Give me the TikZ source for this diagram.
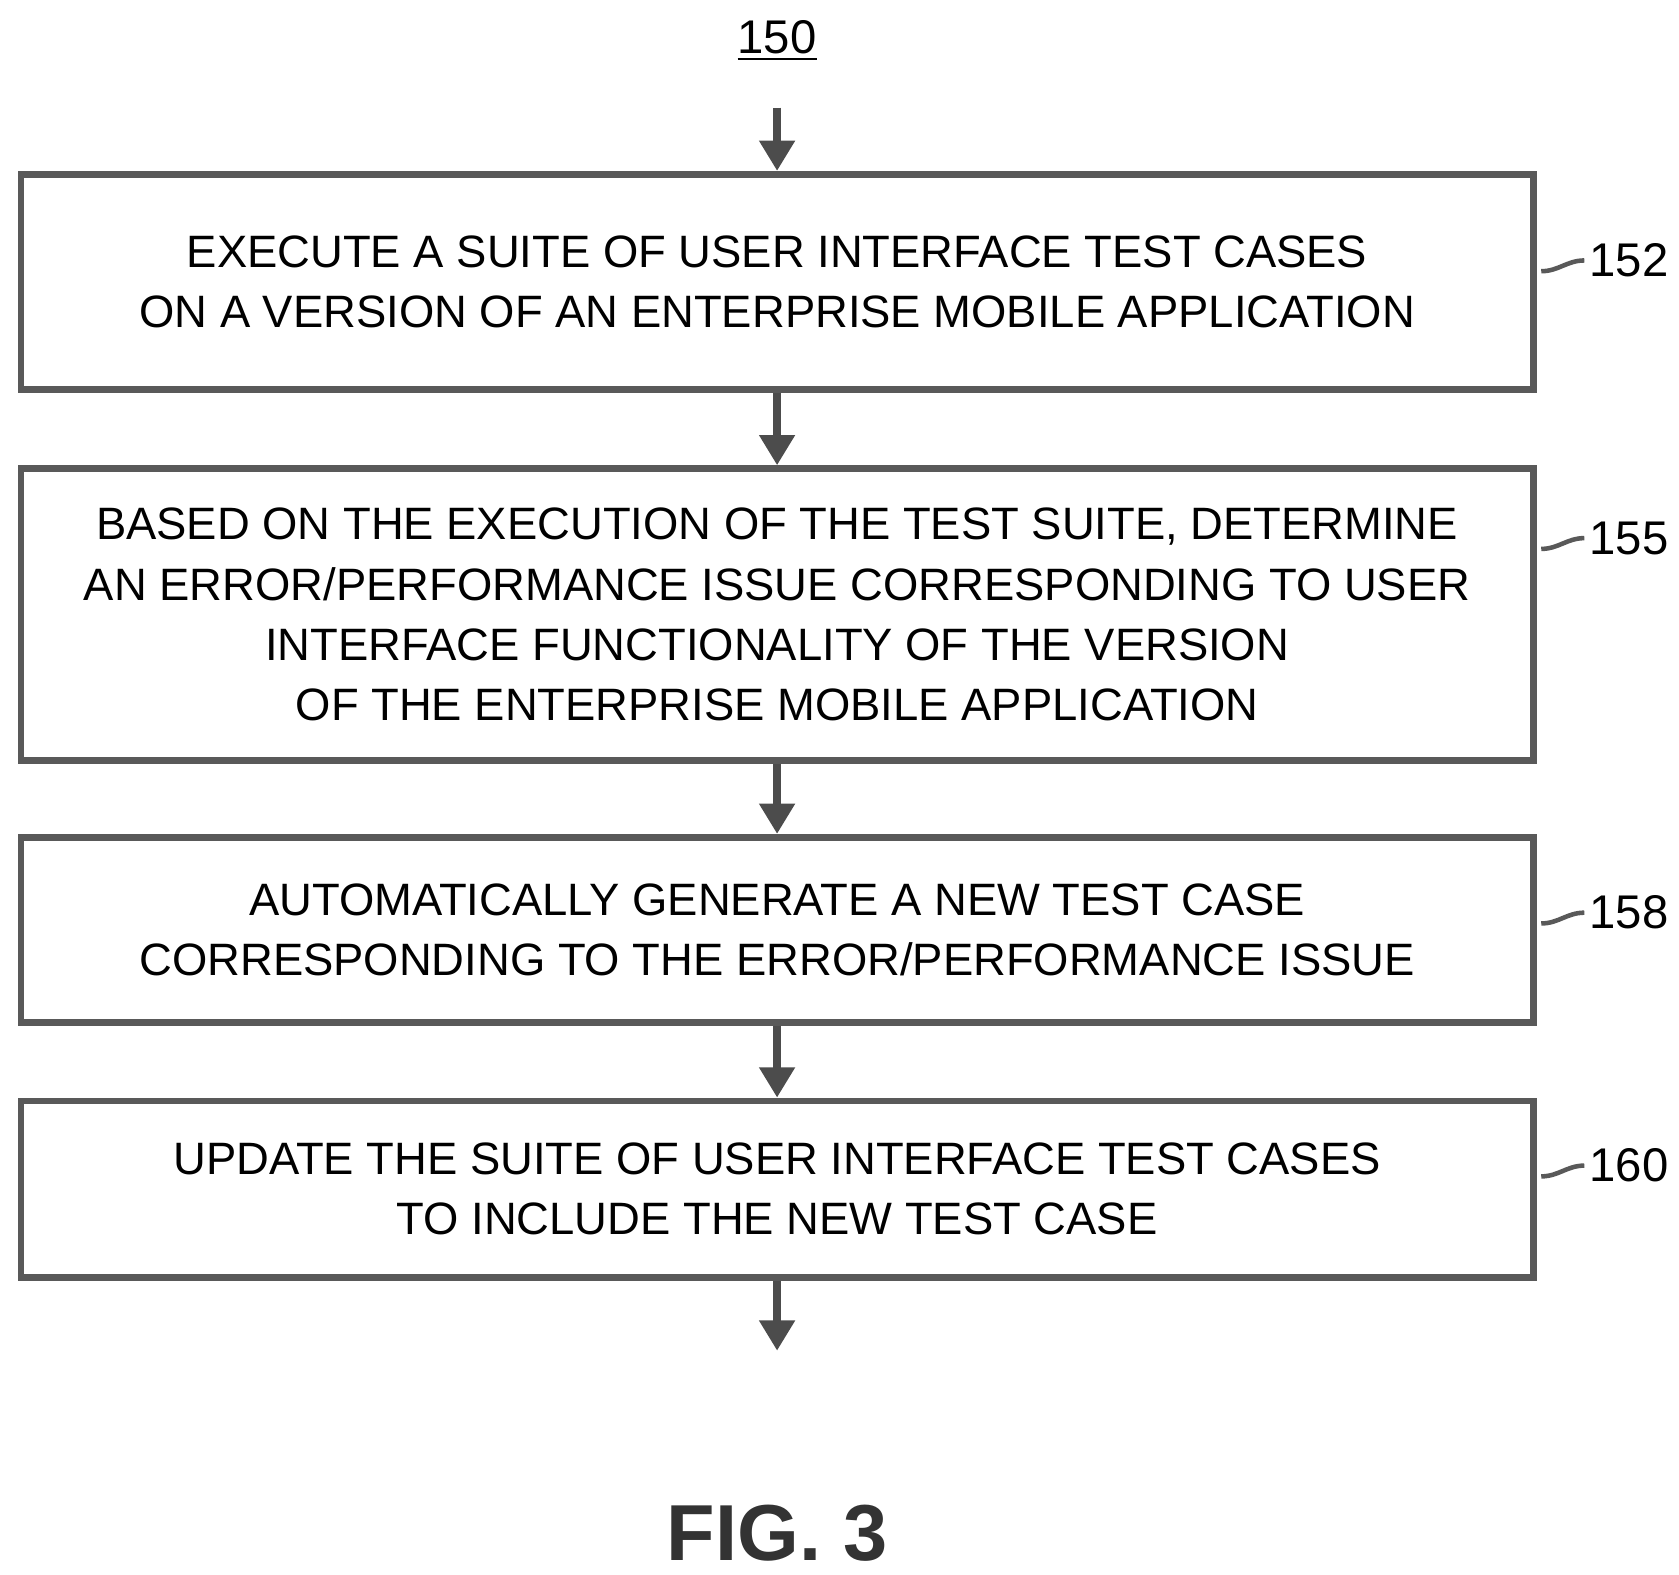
\documentclass[tikz,border=0pt]{standalone}
\usepackage{fontspec}
\setmainfont{Liberation Sans}
\usetikzlibrary{arrows.meta}

\begin{document}
\begin{tikzpicture}[
    x=0.1mm, y=-0.1mm,
    thick,
    flow/.style={-{Triangle[width=9pt,length=8pt]}, line width=2.2pt, draw=black!70},
    stepbox/.style={draw=black!65, line width=1.8pt, minimum width=140.5mm, align=center,
        font=\fontsize{12}{15.9}\selectfont, inner sep=0pt},
    ref/.style={font=\fontsize{12.5}{15}\selectfont, anchor=west, inner sep=1pt},
    lead/.style={line width=1.2pt, draw=black!65}
]
\useasboundingbox (0,0) rectangle (1560,1463);

% Title
\node (t150) at (722,38) {\fontsize{12.5}{15}\selectfont\underline{150}};

% Steps
\node[stepbox, minimum height=20mm] (b1) at (722,262) {EXECUTE A SUITE OF USER INTERFACE TEST CASES\\ON A VERSION OF AN ENTERPRISE MOBILE APPLICATION};
\node[stepbox, minimum height=27.1mm] (b2) at (722,571) {BASED ON THE EXECUTION OF THE TEST SUITE, DETERMINE\\AN ERROR/PERFORMANCE ISSUE CORRESPONDING TO USER\\INTERFACE FUNCTIONALITY OF THE VERSION\\OF THE ENTERPRISE MOBILE APPLICATION};
\node[stepbox, minimum height=17.2mm] (b3) at (722,864) {AUTOMATICALLY GENERATE A NEW TEST CASE\\CORRESPONDING TO THE ERROR/PERFORMANCE ISSUE};
\node[stepbox, minimum height=16.4mm] (b4) at (722,1105) {UPDATE THE SUITE OF USER INTERFACE TEST CASES\\TO INCLUDE THE NEW TEST CASE};

\coordinate (top) at (722,100);
\coordinate (bot) at (722,1255);

% Arrows
\draw[flow] (top) -- (b1);
\draw[flow] (b1) -- (b2);
\draw[flow] (b2) -- (b3);
\draw[flow] (b3) -- (b4);
\draw[flow] (b4) -- (bot);

% Reference numerals
\node[ref] (l152) at (1472,242) {152};
\node[ref] (l155) at (1472,500) {155};
\node[ref] (l158) at (1472,848) {158};
\node[ref] (l160) at (1472,1083) {160};

\coordinate (c152) at (1432,252);
\coordinate (c155) at (1432,510);
\coordinate (c158) at (1432,858);
\coordinate (c160) at (1432,1093);
\draw[lead] (c152) to[out=0,in=180] (l152.west);
\draw[lead] (c155) to[out=0,in=180] (l155.west);
\draw[lead] (c158) to[out=0,in=180] (l158.west);
\draw[lead] (c160) to[out=0,in=180] (l160.west);

% Figure label
\node[font=\fontsize{21}{24}\selectfont\bfseries, text=black!80] (fig) at (722,1425) {FIG. 3};
\end{tikzpicture}
\end{document}
